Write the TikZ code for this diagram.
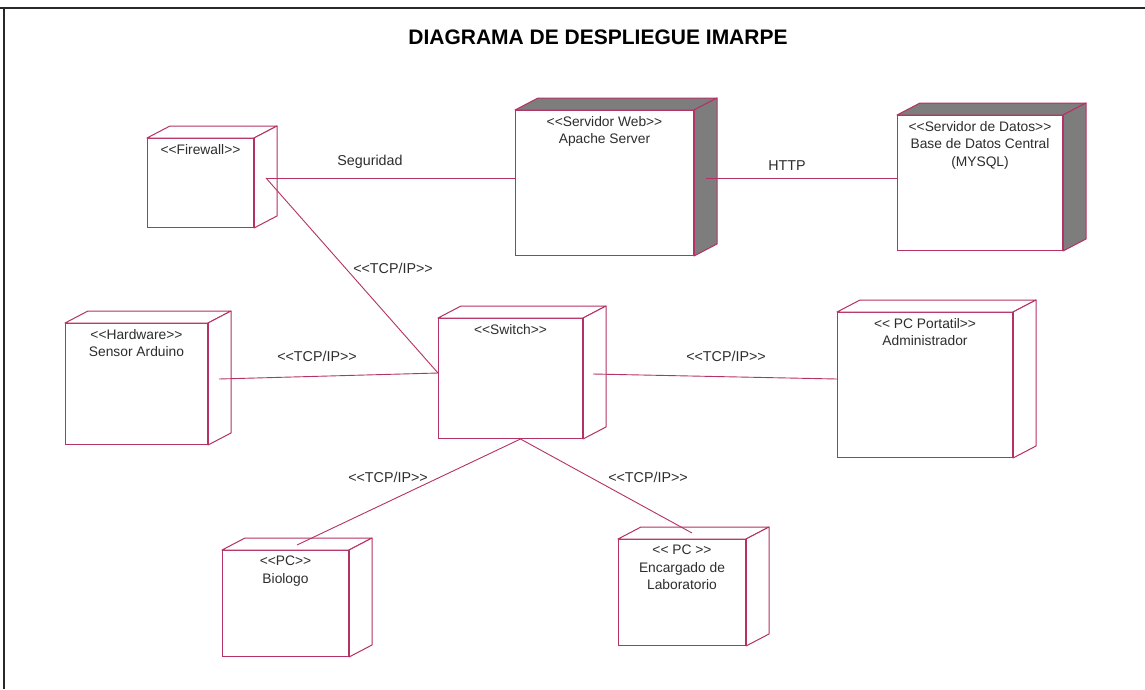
\documentclass[tikz,border=0pt]{standalone}
\usepackage{fontspec}
\setmainfont{Liberation Sans}
\usetikzlibrary{calc}
\definecolor{edgecol}{RGB}{180,50,100}
\definecolor{sidegray}{RGB}{125,125,125}
\definecolor{txtcol}{RGB}{45,45,45}
\definecolor{framecol}{RGB}{40,40,40}
\newcommand\LL{<{}<}
\newcommand\GG{>{}>}
\newcommand\cubeparts[2]{%
  \filldraw[nodeline, fill=#2] (#1.north west) -- ++(23,-12) -- ($(#1.north east)+(23,-12)$) -- (#1.north east) -- cycle;
  \filldraw[nodeline, fill=#2] (#1.north east) -- ($(#1.north east)+(23,-12)$) -- ($(#1.south east)+(23,-12)$) -- (#1.south east) -- cycle;
  \draw[nodeline, line width=1.8pt] (#1.north east) -- (#1.south east);
}
\tikzset{
  nodeline/.style={draw=edgecol, line width=1pt, line join=round},
  dnode/.style={rectangle, draw=edgecol, line width=1pt, fill=white, inner sep=0pt, anchor=north west},
  lbl/.style={anchor=north, yshift=-6pt, align=center, inner sep=0pt, text=txtcol,
              font=\fontsize{13.8}{17.5}\selectfont},
  conn/.style={draw=edgecol, line width=0.9pt},
  elabel/.style={inner sep=0pt, text=txtcol, font=\fontsize{14.3}{17}\selectfont},
}
\begin{document}
\begin{tikzpicture}[x=1pt, y=-1pt]
\useasboundingbox (0,0) rectangle (1145,689);
\fill[white] (0,0) rectangle (1145,689);
\draw[framecol, line width=2pt] (0,8) -- (1145,8);
\draw[framecol, line width=1.4pt] (4,8) -- (4,689);

\node[font=\bfseries\fontsize{21}{24}\selectfont, text=black] (title) at (598,37) {DIAGRAMA DE DESPLIEGUE IMARPE};

% nodes (front faces)
\node[dnode, minimum width=106pt, minimum height=89pt,
  label={[lbl]north:\LL Firewall\GG}] (fw) at (147,138) {};
\cubeparts{fw}{white}
\node[dnode, minimum width=178pt, minimum height=145pt,
  label={[lbl]north:\LL Servidor Web\GG\\Apache Server}] (web) at (515,110) {};
\cubeparts{web}{sidegray}
\node[dnode, minimum width=165pt, minimum height=135pt,
  label={[lbl]north:\LL Servidor de Datos\GG\\Base de Datos Central\\(MYSQL)}] (db) at (897,115) {};
\cubeparts{db}{sidegray}
\node[dnode, minimum width=142pt, minimum height=121pt,
  label={[lbl]north:\LL Hardware\GG\\Sensor Arduino}] (hw) at (65,323) {};
\cubeparts{hw}{white}
\node[dnode, minimum width=144pt, minimum height=120pt,
  label={[lbl]north:\LL Switch\GG}] (sw) at (438,318) {};
\cubeparts{sw}{white}
\node[dnode, minimum width=175pt, minimum height=145pt,
  label={[lbl]north:\LL{} PC Portatil\GG\\Administrador}] (pc) at (837,312) {};
\cubeparts{pc}{white}
\node[dnode, minimum width=126pt, minimum height=106pt,
  label={[lbl]north:\LL PC\GG\\Biologo}] (bio) at (222,550) {};
\cubeparts{bio}{white}
\node[dnode, minimum width=127pt, minimum height=106pt,
  label={[lbl]north:\LL{} PC \GG\\Encargado de\\Laboratorio}] (lab) at (618,539) {};
\cubeparts{lab}{white}

% connection points
\coordinate (fwR) at ($(fw.north east)+(12,40)$);
\coordinate (webL) at ($(web.north west)+(0,68)$);
\coordinate (webR) at ($(web.north east)+(12,68)$);
\coordinate (dbL) at ($(db.north west)+(0,63)$);
\coordinate (swL) at ($(sw.north west)+(0,55)$);
\coordinate (swR) at ($(sw.north east)+(10,56)$);
\coordinate (swB) at ($(sw.south)+(10,0)$);
\coordinate (hwR) at ($(hw.north east)+(11,56)$);
\coordinate (pcL) at ($(pc.north west)+(0,67)$);
\coordinate (bioT) at ($(bio.north west)+(75,-5)$);
\coordinate (labT) at ($(lab.north west)+(74,-6)$);

% connectors
\draw[conn] (fwR) -- (webL);
\draw[conn] (webR) -- (dbL);
\draw[conn] (fwR) -- (swL);
\draw[conn] (hwR) -- (swL);
\draw[conn] (swR) -- (pcL);
\draw[conn] (swB) -- (bioT);
\draw[conn] (swB) -- (labT);

% connector labels
\node[elabel] (l1) at (370,162) {Seguridad};
\node[elabel] (l2) at (787,166) {HTTP};
\node[elabel] (l3) at (393,268) {\LL TCP/IP\GG};
\node[elabel] (l4) at (317,356) {\LL TCP/IP\GG};
\node[elabel] (l5) at (726,356) {\LL TCP/IP\GG};
\node[elabel] (l6) at (388,477) {\LL TCP/IP\GG};
\node[elabel] (l7) at (648,477) {\LL TCP/IP\GG};
\end{tikzpicture}
\end{document}
